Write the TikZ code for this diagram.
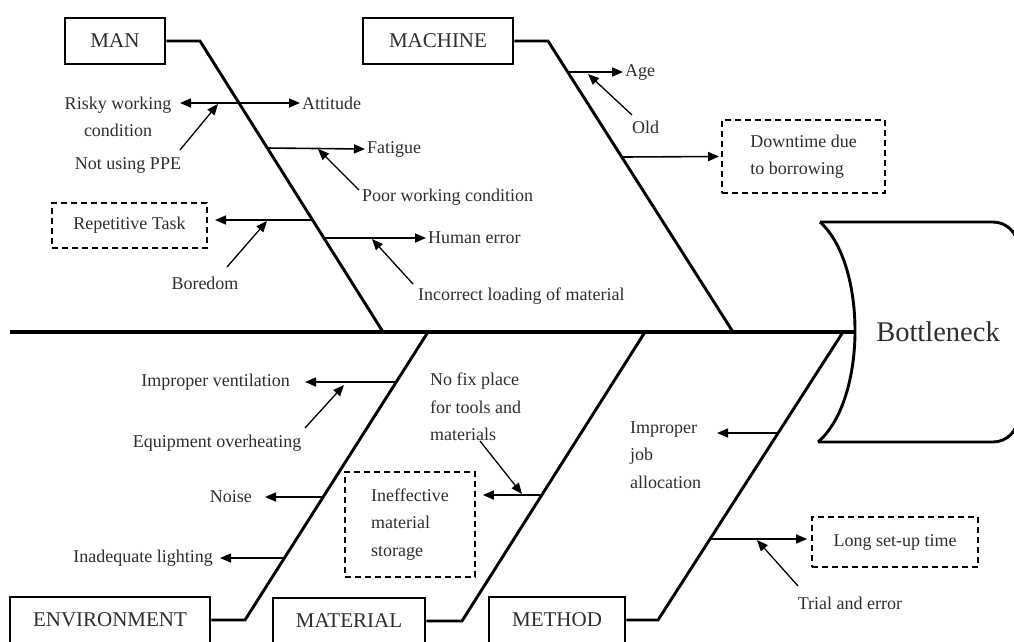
\documentclass[tikz,border=0pt]{standalone}
\usepackage{fontspec}
\setmainfont{Liberation Serif}
\usetikzlibrary{arrows.meta}
\begin{document}
\begin{tikzpicture}[x=1pt,y=-1pt,
  bone/.style={line width=2.9pt, line join=miter},
  sub/.style={line width=1.6pt, -{Triangle[length=11pt,width=9pt]}},
  thin/.style={line width=1.3pt, -{Triangle[length=11pt,width=9pt]}},
  lbl/.style={font=\fontsize{18}{27.5}\selectfont, inner sep=2pt, text=black!82},
  cat/.style={draw, line width=2.9pt, inner sep=0pt, minimum height=46pt, font=\fontsize{21}{24}\selectfont, text=black!82},
  dbox/.style={draw, line width=1.8pt, dash pattern=on 6pt off 4pt, inner sep=0pt, font=\fontsize{18}{27.5}\selectfont, text=black!82}
]
\useasboundingbox (0,0) rectangle (1014,641);
\clip (0,0) rectangle (1014,641);

% ---- head ----
\coordinate (headL) at (855,332);
\draw[bone] (820,222) -- (993,222) arc (-90:0:25) -- (1018,417) arc (0:90:25) -- (818,442);
\draw[bone] (818,442) .. controls (867,400) and (867,264) .. (820,222);
\node[font=\fontsize{28.5}{32}\selectfont, text=black!82] (head) at (938,332) {Bottleneck};

% ---- spine ----
\coordinate (spineL) at (10,332);
\draw[line width=3.2pt] (spineL) -- (headL);

% ---- category boxes ----
\node[cat, minimum width=100pt] (man) at (115,41) {MAN};
\node[cat, minimum width=150pt] (machine) at (438,41) {MACHINE};
\node[cat, minimum width=200pt] (env) at (110,620) {ENVIRONMENT};
\node[cat, minimum width=152pt] (mat) at (349,621) {MATERIAL};
\node[cat, minimum width=136pt] (method) at (557,620) {METHOD};

% ---- bones ----
\coordinate (manK) at (200,41);   \coordinate (manS) at (383,332);
\coordinate (macK) at (548,41);   \coordinate (macS) at (733,332);
\coordinate (envK) at (245,620);  \coordinate (envS) at (428,332);
\coordinate (matK) at (462,621);  \coordinate (matS) at (645,332);
\coordinate (metK) at (658,620);  \coordinate (metS) at (843,332);
\draw[bone] (man.east) -- (manK) -- (manS);
\draw[bone] (machine.east) -- (macK) -- (macS);
\draw[bone] (env.east) -- (envK) -- (envS);
\draw[bone] (mat.east) -- (matK) -- (matS);
\draw[bone] (method.east) -- (metK) -- (metS);

% ---- MAN ----
\node[lbl, anchor=west] (attitude) at (300,103) {Attitude};
\node[lbl, align=center] (risky) at (118,117) {Risky working\\condition};
\coordinate (attL) at (180,103);
\draw[line width=1.6pt, {Triangle[length=11pt,width=9pt]}-{Triangle[length=11pt,width=9pt]}] (attL) -- (attitude.west);
\node[lbl] (ppe) at (128,165) {Not using PPE};
\coordinate (ppeS) at (180,150); \coordinate (ppeT) at (218,104);
\draw[thin] (ppeS) -- (ppeT);

\coordinate (fatS) at (267,148);
\node[lbl, anchor=west] (fatigue) at (365,149) {Fatigue};
\draw[sub] (fatS) -- (fatigue.west);
\node[lbl, anchor=west] (poor) at (360,197) {Poor working condition};
\coordinate (poorS) at (359,190); \coordinate (poorT) at (318,149);
\draw[thin] (poorS) -- (poorT);

\node[dbox, minimum width=155pt, minimum height=45pt] (rep) at (129.5,225.5) {Repetitive Task};
\coordinate (repS) at (313,220);  \coordinate (repT) at (215,220);
\draw[sub] (repS) -- (repT);
\node[lbl] (boredom) at (205,283) {Boredom};
\coordinate (borS) at (227,267); \coordinate (borT) at (267,221);
\draw[thin] (borS) -- (borT);

\coordinate (heS) at (324,238);
\node[lbl, anchor=west] (human) at (426,238) {Human error};
\draw[sub] (heS) -- (human.west);
\node[lbl, anchor=west] (incorrect) at (416,296) {Incorrect loading of material};
\coordinate (incS) at (413,284); \coordinate (incT) at (372,239);
\draw[thin] (incS) -- (incT);

% ---- MACHINE ----
\coordinate (ageS) at (568,72);
\node[lbl, anchor=west] (age) at (623,72) {Age};
\draw[sub] (ageS) -- (age.west);
\node[lbl, anchor=west] (old) at (630,127) {Old};
\coordinate (oldS) at (632,115); \coordinate (oldT) at (588,74);
\draw[thin] (oldS) -- (oldT);

\node[dbox, minimum width=163pt, minimum height=73pt, align=left] (down) at (803.5,156.5) {Downtime due\\to borrowing};
\coordinate (downS) at (622,157);
\draw[sub] (downS) -- ([xshift=-2pt]down.west);

% ---- ENVIRONMENT ----
\coordinate (ventS) at (396,382); \coordinate (ventT) at (305,382);
\draw[sub] (ventS) -- (ventT);
\node[lbl, anchor=east] (vent) at (292,382) {Improper ventilation};
\node[lbl] (overheat) at (217,443) {Equipment overheating};
\coordinate (ovS) at (305,428); \coordinate (ovT) at (344,385);
\draw[thin] (ovS) -- (ovT);

\coordinate (noiseS) at (323,497); \coordinate (noiseT) at (265,497);
\draw[sub] (noiseS) -- (noiseT);
\node[lbl, anchor=east] (noise) at (254,497) {Noise};

\coordinate (lightS) at (284,558); \coordinate (lightT) at (220,558);
\draw[sub] (lightS) -- (lightT);
\node[lbl, anchor=east] (light) at (215,558) {Inadequate lighting};

% ---- MATERIAL ----
\node[dbox, minimum width=130pt, minimum height=105pt, align=left] (storage) at (410,524.5) {Ineffective\\material\\storage};
\coordinate (stS) at (541,495);
\draw[sub] (stS) -- ([xshift=7pt]storage.east |- stS);
\node[lbl, anchor=west, align=left] (nofix) at (428,407) {No fix place\\for tools and\\materials};
\coordinate (nfS) at (480,441); \coordinate (nfT) at (522,494);
\draw[thin] (nfS) -- (nfT);

% ---- METHOD ----
\coordinate (jobS) at (778,433); \coordinate (jobT) at (717,433);
\draw[sub] (jobS) -- (jobT);
\node[lbl, anchor=west, align=left] (job) at (628,455) {Improper\\job\\allocation};

\node[dbox, minimum width=166pt, minimum height=50pt] (setup) at (895,542) {Long set-up time};
\coordinate (setS) at (710,539);
\draw[sub] (setS) -- ([xshift=-4pt]setup.west |- setS);
\node[lbl] (trial) at (850,603) {Trial and error};
\coordinate (trS) at (798,586); \coordinate (trT) at (757,540);
\draw[thin] (trS) -- (trT);
\end{tikzpicture}
\end{document}
